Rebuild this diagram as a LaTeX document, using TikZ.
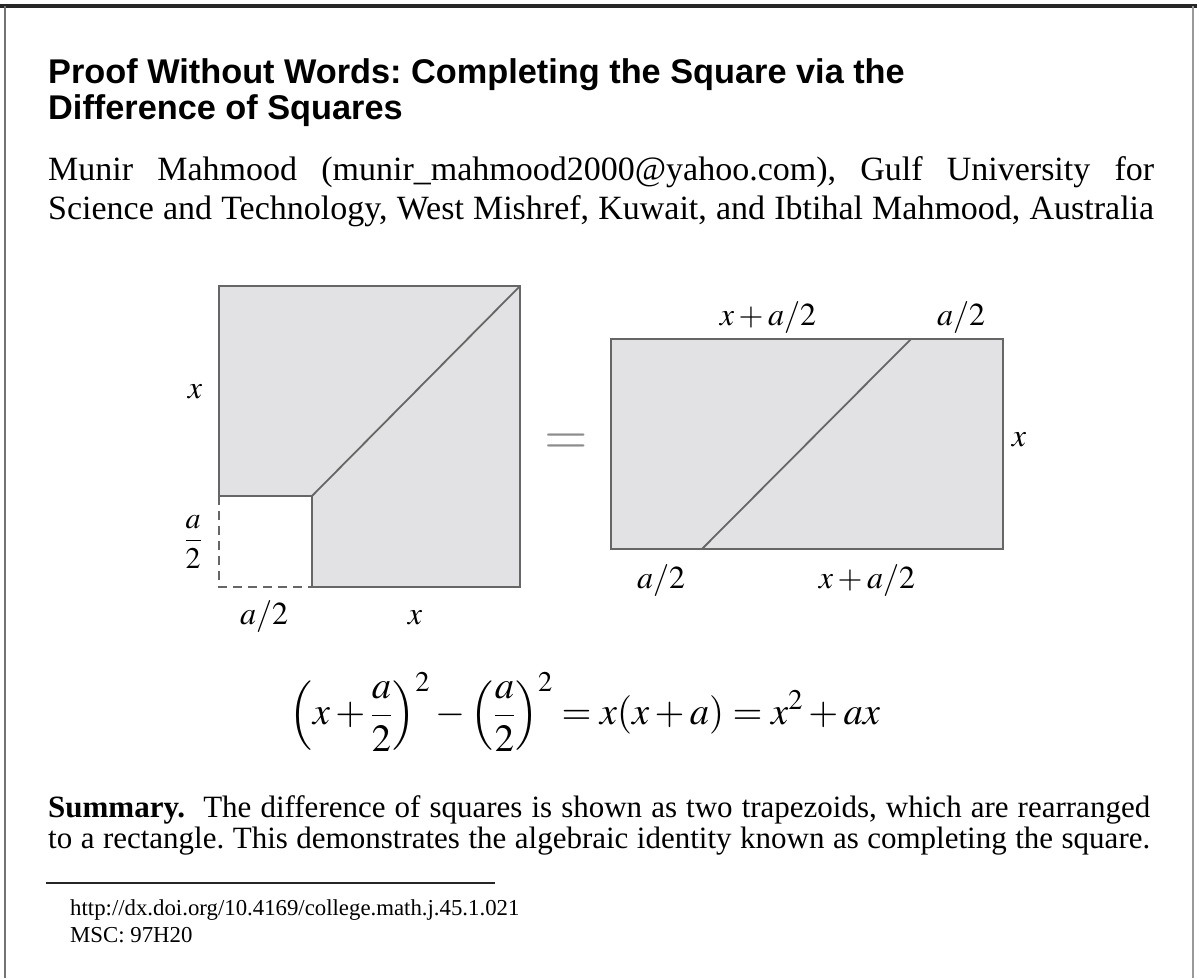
\documentclass[tikz,border=0pt]{standalone}
\usepackage{mathptmx}
\usepackage{fontspec}
\setmainfont{Liberation Serif}
\setsansfont{Liberation Sans}
\definecolor{panelgray}{HTML}{E2E2E4}
\definecolor{edgegray}{HTML}{666666}
\frenchspacing
\begin{document}
\begin{tikzpicture}[x=1pt,y=-1pt,
  lbl/.style={inner sep=0pt, anchor=base, font=\fontsize{32}{36}\selectfont},
  fig/.style={draw=edgegray, line width=1.8pt},
  titletext/.style={inner sep=0pt, anchor=base west, font=\fontsize{34.3}{40}\sffamily\bfseries\selectfont},
  authortext/.style={inner sep=0pt, anchor=base west, font=\fontsize{34}{40}\selectfont},
  sumtext/.style={inner sep=0pt, anchor=base west, font=\fontsize{31}{34}\selectfont},
  foottext/.style={inner sep=0pt, anchor=base west, font=\fontsize{22.8}{26}\selectfont}]
\useasboundingbox (0,0) rectangle (1197,978);
% frame
\draw[line width=3.5pt, black!85] (0,6) -- (1197,6);
\draw[line width=2pt, black!55] (5,6) -- (5,978);
\draw[line width=2.5pt, black!40] (1193,6) -- (1193,978);
% title
\node[titletext] (t1) at (48,83) {Proof Without Words: Completing the Square via the};
\node[titletext] (t2) at (48,119) {Difference of Squares};
% authors
\node[authortext] (a1) at (48,180) {\makebox[1106pt][s]{Munir Mahmood (munir\_mahmood2000@yahoo.com), Gulf University for}};
\node[authortext] (a2) at (48,219) {\makebox[1106pt][s]{Science and Technology, West Mishref, Kuwait, and Ibtihal Mahmood, Australia}};
% left figure
\coordinate (A) at (219,286);
\coordinate (B) at (520,286);
\coordinate (C) at (520,587);
\coordinate (D) at (312,587);
\coordinate (E) at (312,496);
\coordinate (F) at (219,496);
\coordinate (G) at (219,587);
\fill[panelgray] (A) -- (B) -- (C) -- (D) -- (E) -- (F) -- cycle;
\draw[fig] (A) -- (B) -- (C) -- (D) -- (E) -- (F) -- cycle;
\draw[fig] (E) -- (B);
\draw[fig, dash pattern=on 9pt off 6pt] (F) -- (G) -- (D);
\node[lbl] (lx) at (195,398) {$x$};
\node[inner sep=0pt, font=\fontsize{30}{36}\selectfont] (lfrac) at (193,542) {$\displaystyle\frac{a}{2}$};
\node[lbl] (lb1) at (264,624) {$a/2$};
\node[lbl] (lb2) at (415,624) {$x$};
% equals
\node[inner sep=0pt, text=black!45, font=\fontsize{56}{60}\selectfont] (eq) at (566,444) {$=$};
% right figure
\coordinate (P) at (611,339);
\coordinate (Q) at (1003,339);
\coordinate (R) at (1003,549);
\coordinate (S) at (611,549);
\coordinate (T) at (911,339);
\coordinate (U) at (702,549);
\fill[panelgray] (P) rectangle (R);
\draw[fig] (P) rectangle (R);
\draw[fig] (T) -- (U);
\node[lbl] (rt1) at (768,325) {$x+a/2$};
\node[lbl] (rt2) at (961,325) {$a/2$};
\node[lbl] (rr) at (1019,446) {$x$};
\node[lbl] (rb1) at (661,588) {$a/2$};
\node[lbl] (rb2) at (867,588) {$x+a/2$};
% equation
\node[inner sep=0pt, font=\fontsize{38.5}{42}\selectfont] (eqn) at (585,712)
  {$\displaystyle\left(x+\frac{a}{2}\right)^{2}-\left(\frac{a}{2}\right)^{2}=x(x+a)=x^{2}+ax$};
% summary
\node[sumtext] (s1) at (48,817) {\makebox[1102pt][s]{\textbf{Summary.}\ \ The difference of squares is shown as two trapezoids, which are rearranged}};
\node[sumtext] (s2) at (48,848) {\makebox[1102pt][s]{to a rectangle. This demonstrates the algebraic identity known as completing the square.}};
% footnote
\coordinate (r1) at (46,883);
\coordinate (r2) at (495,883);
\draw[line width=1.6pt, black!85] (r1) -- (r2);
\node[foottext] (url) at (70,915) {http://dx.doi.org/10.4169/college.math.j.45.1.021};
\node[foottext] (msc) at (70,942) {MSC: 97H20};
\end{tikzpicture}
\end{document}
